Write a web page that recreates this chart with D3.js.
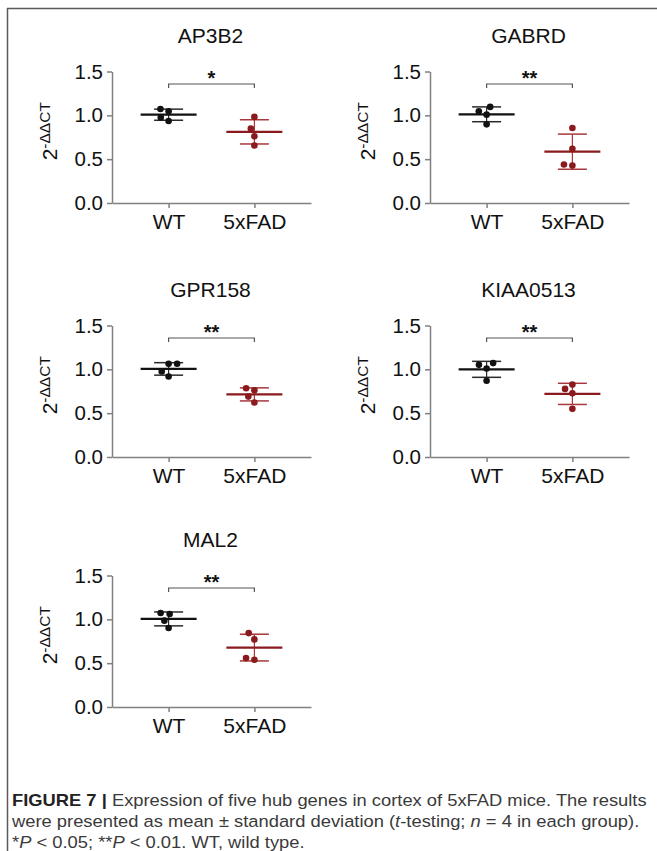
<!DOCTYPE html>
<html>
<head>
<meta charset="utf-8">
<script src="https://cdn.jsdelivr.net/npm/d3@7"></script>
<style>
  html, body { margin: 0; padding: 0; background: #fff; }
  svg { display: block; font-family: "Liberation Sans", Arial, Helvetica, sans-serif; }
</style>
</head>
<body>
<svg id="main-svg" width="657" height="851"></svg>
<script>
// ----- //
// data
// ----- //
var genes = ["AP3B2", "GABRD", "GPR158", "KIAA0513", "MAL2"];
var groups = ["WT", "5xFAD"];
var wtValues = [
  [1.046, 1.073, 0.974, 0.936],
  [1.096, 1.008, 1.046, 0.897],
  [1.063, 1.063, 0.975, 0.918],
  [1.071, 1.051, 1.009, 0.869],
  [1.072, 1.061, 0.985, 0.901]
];
var fadValues = [
  [0.982, 0.848, 0.760, 0.656],
  [0.856, 0.619, 0.439, 0.428],
  [0.785, 0.762, 0.689, 0.621],
  [0.826, 0.777, 0.728, 0.549],
  [0.843, 0.771, 0.558, 0.539]
];
var stars = ["*", "**", "**", "**", "**"];
var yTicks = [0, 0.5, 1.0, 1.5];
var yMax = 1.5;

// caption, one array per line
var captionLines = [
  [{t: "FIGURE 7 |", b: true}, {t: " Expression of five hub genes in cortex of 5xFAD mice. The results"}],
  [{t: "were presented as mean \u00B1 standard deviation ("}, {t: "t", i: true}, {t: "-testing; "}, {t: "n", i: true}, {t: " = 4 in each group)."}],
  [{t: "*"}, {t: "P", i: true}, {t: " < 0.05; **"}, {t: "P", i: true}, {t: " < 0.01. WT, wild type."}]
];

// ----- //
// layout
// ----- //
var colX = [112, 430];          // x of each column's y-axis
var rowBase = [203, 457, 707];  // y of each row's x-axis
var plotW = 199, plotH = 131.5;
var colors = { "WT": "#111111", "5xFAD": "#8a1a1d" };
var barColors = { "WT": "#2a2a2a", "5xFAD": "#a8383b" };

var svg = d3.select("#main-svg");

var x = d3.scalePoint().domain(groups).range([0, plotW]).padding(0.66);
var y = d3.scaleLinear().domain([0, yMax]).range([plotH, 0]);

// ----- //
// frame
// ----- //
svg.append("line")
  .attr("x1", 7).attr("x2", 657).attr("y1", 8.5).attr("y2", 8.5)
  .attr("stroke", "#5a5a5a").attr("stroke-width", 1.5);
svg.append("line")
  .attr("x1", 7.5).attr("x2", 7.5).attr("y1", 8).attr("y2", 851)
  .attr("stroke", "#5a5a5a").attr("stroke-width", 1.5);

// simple beeswarm: spread points that would overlap
function swarm(values, d) {
  var placed = [];
  var out = new Array(values.length);
  var order = values.map((v, i) => i).sort((a, b) => values[a] - values[b]);
  order.forEach(function(i) {
    var py = y(values[i]);
    var cands = [0];
    placed.forEach(function(p) {
      var dy = Math.abs(p.y - py);
      if (dy < d) {
        var dx = Math.sqrt(d * d - dy * dy);
        cands.push(p.x - dx, p.x + dx);
      }
    });
    cands.sort((a, b) => Math.abs(a) - Math.abs(b) || a - b);
    var best = cands.find(function(cx) {
      return placed.every(p => Math.hypot(p.x - cx, p.y - py) >= d - 1e-6);
    });
    placed.push({x: best, y: py});
    out[i] = best;
  });
  return out;
}

// ----- //
// panels
// ----- //
genes.forEach(function(gene, i) {
  var col = i % 2, row = Math.floor(i / 2);
  var g = svg.append("g")
    .attr("transform", `translate(${colX[col]},${rowBase[row] - plotH})`);

  // title
  g.append("text")
    .attr("x", plotW / 2 - 1)
    .attr("y", -28.3)
    .attr("text-anchor", "middle")
    .attr("font-size", 21)
    .attr("fill", "#111")
    .text(gene);

  // axes
  var yAxis = g.append("g")
    .call(d3.axisLeft(y).tickValues(yTicks).tickFormat(d3.format(".1f"))
      .tickSize(5).tickSizeOuter(0).tickPadding(4));
  var xAxis = g.append("g")
    .attr("transform", `translate(0,${plotH})`)
    .call(d3.axisBottom(x).tickSize(5).tickSizeOuter(0).tickPadding(6));
  [yAxis, xAxis].forEach(function(ax) {
    ax.select(".domain").attr("stroke", "#808080").attr("stroke-width", 1.5);
    ax.selectAll(".tick line").attr("stroke", "#808080").attr("stroke-width", 1.5);
    ax.selectAll(".tick text").attr("fill", "#111").attr("font-family", null);
  });
  yAxis.selectAll(".tick text").attr("font-size", 20.5);
  xAxis.selectAll(".tick text").attr("font-size", 21);

  // y-axis label 2^-ΔΔCT
  var lab = g.append("text")
    .attr("transform", `translate(-55,${plotH / 2 - 6}) rotate(-90)`)
    .attr("text-anchor", "middle")
    .attr("fill", "#111");
  lab.append("tspan").attr("font-size", 21).text("2");
  lab.append("tspan").attr("font-size", 15.5).attr("dy", -7.5).text("-\u0394\u0394CT");

  // significance bracket
  var by = y(yMax) + 12.5;
  g.append("path")
    .attr("d", `M${x("WT")},${by + 4}V${by}H${x("5xFAD")}V${by + 4}`)
    .attr("fill", "none")
    .attr("stroke", "#555")
    .attr("stroke-width", 1.2);
  g.append("text")
    .attr("x", (x("WT") + x("5xFAD")) / 2)
    .attr("y", by + 0.5)
    .attr("text-anchor", "middle")
    .attr("font-size", 20)
    .attr("font-weight", "bold")
    .attr("fill", "#111")
    .text(stars[i]);

  // error bars and points for each group
  [["WT", wtValues[i]], ["5xFAD", fadValues[i]]].forEach(function(pair) {
    var grp = pair[0], vals = pair[1];
    var cx = x(grp);
    var m = d3.mean(vals), sd = d3.deviation(vals);
    var bars = g.append("g").attr("stroke", barColors[grp]);
    bars.append("line")
      .attr("x1", cx).attr("x2", cx).attr("y1", y(m + sd)).attr("y2", y(m - sd))
      .attr("stroke-width", 1.2);
    [m + sd, m - sd].forEach(function(v) {
      bars.append("line")
        .attr("x1", cx - 14.5).attr("x2", cx + 14.5).attr("y1", y(v)).attr("y2", y(v))
        .attr("stroke-width", 1.5);
    });
    bars.append("line")
      .attr("x1", cx - 28).attr("x2", cx + 28).attr("y1", y(m)).attr("y2", y(m))
      .attr("stroke", colors[grp])
      .attr("stroke-width", 2.2);

    var offs = swarm(vals, 8.5);
    g.selectAll(null)
      .data(vals)
      .enter()
      .append("circle")
      .attr("cx", (d, j) => cx + offs[j])
      .attr("cy", d => y(d))
      .attr("r", 3.3)
      .attr("fill", colors[grp]);
  });
});

// ----- //
// caption
// ----- //
var capBase = [805.5, 827, 848];
var capTexts = captionLines.map(function(line, k) {
  var t = svg.append("text")
    .attr("font-family", "'Liberation Sans Narrow', 'Liberation Sans', Arial, sans-serif")
    .attr("font-size", 16.5)
    .attr("fill", "#3a3a3a");
  line.forEach(function(seg) {
    t.append("tspan")
      .attr("font-weight", seg.b ? "bold" : null)
      .attr("fill", seg.b ? "#222" : null)
      .attr("font-style", seg.i ? "italic" : null)
      .text(seg.t);
  });
  return t;
});
// squeeze the lines to the width of the printed caption
var w0 = capTexts[0].node().getBBox().width;
var sx = 635 / w0;
capTexts.forEach(function(t, k) {
  t.attr("transform", `translate(12,${capBase[k]}) scale(${sx},1)`);
});
</script>
</body>
</html>
